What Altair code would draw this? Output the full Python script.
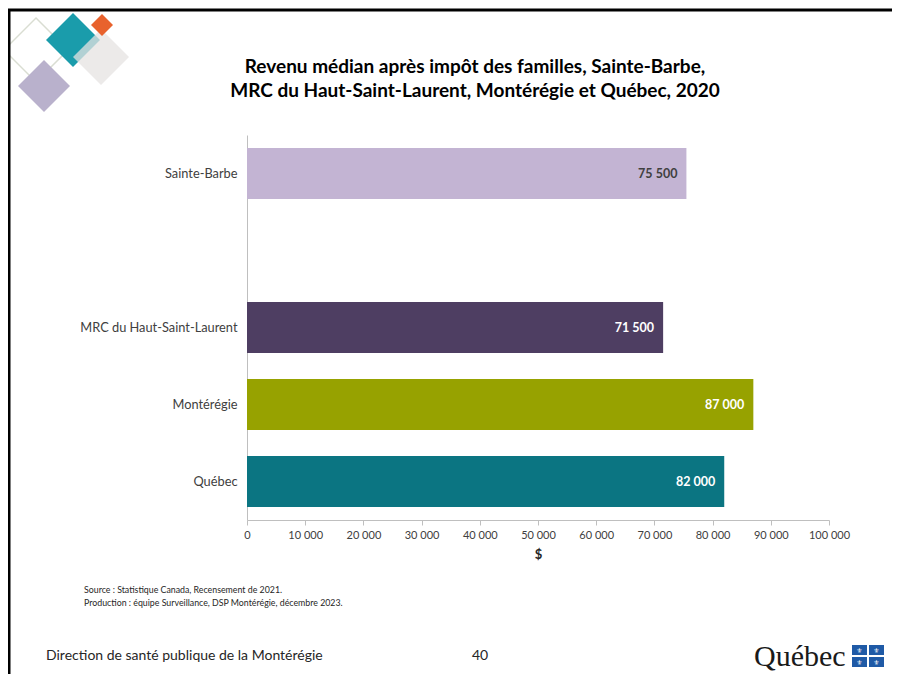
import altair as alt
import pandas as pd

# ---- data ----
categories = ["Sainte-Barbe", "MRC du Haut-Saint-Laurent", "Montérégie", "Québec"]
values = [75500, 71500, 87000, 82000]
bar_colors = ["#c3b4d3", "#4e3e62", "#97a200", "#0b7582"]
label_colors = ["#404040", "#ffffff", "#ffffff", "#ffffff"]
axis_order = ["Sainte-Barbe", " ", "MRC du Haut-Saint-Laurent", "Montérégie", "Québec"]
x_ticks = [0, 10000, 20000, 30000, 40000, 50000, 60000, 70000, 80000, 90000, 100000]

title_lines = [
    "Revenu médian après impôt des familles, Sainte-Barbe,",
    "MRC du Haut-Saint-Laurent, Montérégie et Québec, 2020",
]
source_lines = [
    "Source : Statistique Canada,  Recensement de 2021.",
    "Production : équipe Surveillance, DSP Montérégie, décembre 2023.",
]
footer_left = "Direction de santé publique de la Montérégie"
page_number = "40"
logo_text = "Québec"
fleur = "\u269c"

df = pd.DataFrame({
    "region": categories,
    "value": values,
    "lc": label_colors,
})
one = pd.DataFrame({"a": [0]})

FONT = "Lato"
W, H = 582, 385
PAD_L, PAD_T = 239, 127
TOTAL_W, TOTAL_H = 884, 666

x_enc = alt.X(
    "value:Q",
    scale=alt.Scale(domain=[0, 100000], nice=False),
    axis=alt.Axis(
        values=x_ticks, format=",d", title="$", grid=False,
        domainColor="#bfbfbf", tickColor="#bfbfbf", tickSize=5,
        labelColor="#404040", labelFontSize=11, labelPadding=4,
        titleFontSize=13, titleFontWeight="bold", titleColor="#262626",
        titlePadding=8, labelFlush=False,
    ),
)
y_enc = alt.Y(
    "region:N",
    scale=alt.Scale(domain=axis_order, paddingInner=0.34, paddingOuter=0.17),
    axis=alt.Axis(
        title=None, ticks=False, domainColor="#bfbfbf", labelColor="#404040",
        labelFontSize=12.8, labelPadding=10, labelLimit=300,
    ),
)

bars = alt.Chart(df).mark_bar().encode(
    x=x_enc,
    y=y_enc,
    color=alt.Color("region:N", scale=alt.Scale(domain=categories, range=bar_colors), legend=None),
)

labels = alt.Chart(df).mark_text(
    align="right", baseline="middle", dx=-9, fontWeight="bold", fontSize=12.5, font=FONT
).encode(
    x="value:Q",
    y=alt.Y("region:N", scale=alt.Scale(domain=axis_order)),
    text=alt.Text("value:Q", format=",d"),
    color=alt.Color("lc:N", scale=None),
)

def px(x):
    return x - (8 + PAD_L)

def py(y):
    return y - (8 + PAD_T)

# slide frame
frame_left = alt.Chart(one).mark_rule(color="#000000", strokeWidth=3).encode(
    x=alt.value(px(9)), y=alt.value(py(9)), y2=alt.value(py(700))
)
frame_top = alt.Chart(one).mark_rule(color="#000000", strokeWidth=3).encode(
    x=alt.value(px(7)), x2=alt.value(px(905)), y=alt.value(py(10))
)

# top-left decorative diamonds
def diamond(cx, cy, half_diag, color, opacity=1.0, filled=True, stroke=None):
    side = half_diag * 2 ** 0.5
    kw = dict(shape="square", angle=45, size=side * side, opacity=opacity, filled=filled)
    if filled:
        kw["color"] = color
        kw["strokeWidth"] = 0
    else:
        kw["stroke"] = stroke
        kw["strokeWidth"] = 1.5
        kw["fillOpacity"] = 0
    return alt.Chart(one).mark_point(**kw).encode(x=alt.value(px(cx)), y=alt.value(py(cy)))

deco = [
    diamond(36, 50, 32, None, filled=False, stroke="#d9ddd2"),
    diamond(44, 86, 26, "#b9b1cc"),
    diamond(73, 40, 27, "#1a9cab"),
    diamond(101, 57, 28, "#e6e3e1", opacity=0.75),
    diamond(102, 25, 11, "#e8622d"),
]

# title
title = alt.Chart(one).mark_text(
    font=FONT, fontSize=19, fontWeight="bold", color="#000000", align="center",
    baseline="alphabetic", lineHeight=24,
).encode(x=alt.value(px(475)), y=alt.value(py(73)), text=alt.value(title_lines))

# source notes
source = alt.Chart(one).mark_text(
    font=FONT, fontSize=8.8, color="#262626", align="left", baseline="middle", lineHeight=12.5,
).encode(x=alt.value(px(84)), y=alt.value(py(590)), text=alt.value(source_lines))

footer = alt.Chart(one).mark_text(
    font=FONT, fontSize=14, color="#262626", align="left", baseline="middle",
).encode(x=alt.value(px(46)), y=alt.value(py(656)), text=alt.value(footer_left))

page = alt.Chart(one).mark_text(
    font=FONT, fontSize=14, color="#262626", align="left", baseline="middle",
).encode(x=alt.value(px(472)), y=alt.value(py(656)), text=alt.value(page_number))

logo = alt.Chart(one).mark_text(
    font="Liberation Serif", fontSize=30, color="#1a1a1a", align="left", baseline="middle",
).encode(x=alt.value(px(754)), y=alt.value(py(657)), text=alt.value(logo_text))

flag_cells = [(852, 645), (869, 645), (852, 657), (869, 657)]
flag = []
for x0, y0 in flag_cells:
    flag.append(alt.Chart(one).mark_rect(color="#1f5aa6").encode(
        x=alt.value(px(x0)), x2=alt.value(px(x0 + 15)),
        y=alt.value(py(y0)), y2=alt.value(py(y0 + 10)),
    ))
    flag.append(alt.Chart(one).mark_text(
        font="DejaVu Sans", fontSize=7, color="#ffffff", align="center", baseline="middle",
    ).encode(x=alt.value(px(x0 + 7.5)), y=alt.value(py(y0 + 5.5)), text=alt.value(fleur)))

chart = alt.layer(
    *deco, frame_left, frame_top, bars, labels, title, source, footer, page, logo, *flag
).properties(
    width=W, height=H,
    padding={"left": PAD_L, "top": PAD_T, "right": TOTAL_W - PAD_L - W, "bottom": TOTAL_H - PAD_T - H},
    autosize=alt.AutoSizeParams(type="none"),
).configure(
    font=FONT,
    background="#ffffff",
    locale={"number": {"decimal": ",", "thousands": " ", "grouping": [3], "currency": ["", " $"]}},
).configure_view(stroke=None)

chart.save("out.html", embed_options={"renderer": "svg", "actions": False})
